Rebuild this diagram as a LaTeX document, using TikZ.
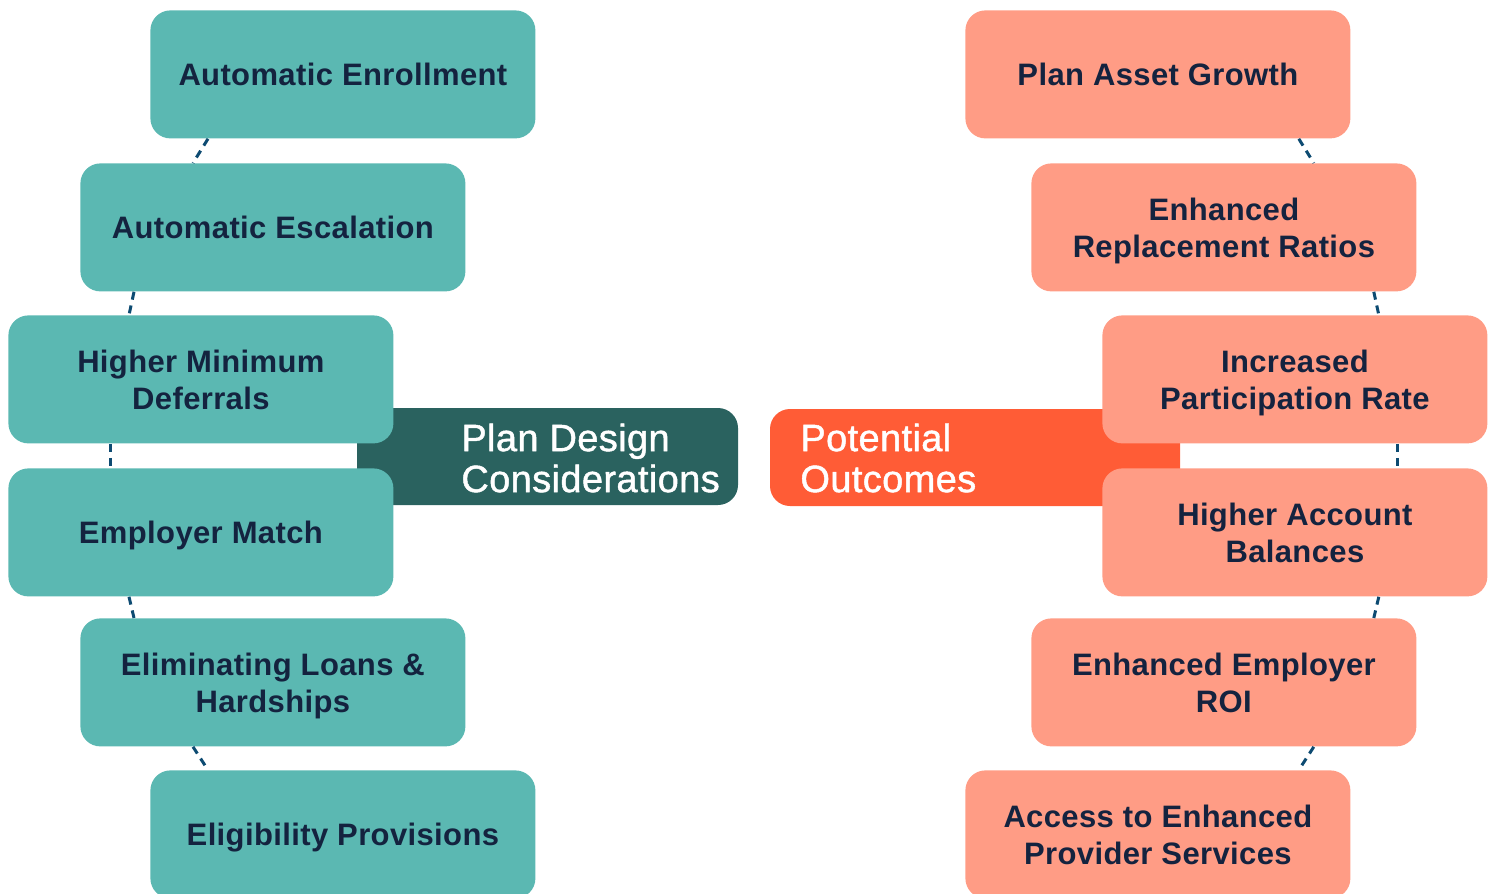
\documentclass[tikz,border=0pt]{standalone}
\usepackage{fontspec}
\setmainfont{Liberation Sans}
\newfontfamily\boxfont[LetterSpace=1.2]{Liberation Sans}
\newfontfamily\hubfont[LetterSpace=1.0, BoldFont={Liberation Sans}, BoldFeatures={FakeBold=1.2}]{Liberation Sans}
\usetikzlibrary{calc}
\definecolor{tealbox}{HTML}{5BB8B2}
\definecolor{tealdark}{HTML}{2A625F}
\definecolor{orangehub}{HTML}{FF5C36}
\definecolor{salmonbox}{HTML}{FF9C85}
\definecolor{navytext}{HTML}{14233F}
\definecolor{dashblue}{HTML}{0D4B72}
\tikzset{
  itembox/.style={anchor=north west, rounded corners=10pt, minimum width=192.5pt,
    minimum height=64pt, inner sep=0pt, text depth=0pt, align=center, text=navytext,
    font=\boxfont\fontsize{15.5pt}{18.5pt}\selectfont\bfseries},
  leftbox/.style={itembox, fill=tealbox},
  rightbox/.style={itembox, fill=salmonbox},
  hubtext/.style={anchor=west, align=left, text=white, inner sep=0pt,
    font=\hubfont\fontsize{19pt}{20.5pt}\selectfont\bfseries},
  link/.style={draw=dashblue, line width=1.5pt, dash pattern=on 4pt off 3pt}
}
\begin{document}
\begin{tikzpicture}[x=0.5pt, y=-0.5pt]
\useasboundingbox (0,0) rectangle (1496,894);

% central hubs (drawn first, partly covered by the side boxes)
\fill[tealdark, rounded corners=10pt] (357,408) rectangle (738,505);
\fill[orangehub, rounded corners=10pt] (770,409) rectangle (1180,506);
\node[hubtext] (hubL) at (461,458) {Plan Design\\Considerations};
\node[hubtext] (hubR) at (800,458) {Potential\\Outcomes};

% plan design considerations
\node[leftbox] (l1) at (150,10)  {Automatic Enrollment};
\node[leftbox] (l2) at (80,163)  {Automatic Escalation};
\node[leftbox] (l3) at (8,315)   {Higher Minimum\\Deferrals};
\node[leftbox] (l4) at (8,468)   {Employer Match};
\node[leftbox] (l5) at (80,618)  {Eliminating Loans \&\\Hardships};
\node[leftbox] (l6) at (150,770) {Eligibility Provisions};

% potential outcomes
\node[rightbox] (r1) at (965,10)   {Plan Asset Growth};
\node[rightbox] (r2) at (1031,163) {Enhanced\\Replacement Ratios};
\node[rightbox] (r3) at (1102,315) {Increased\\Participation Rate};
\node[rightbox] (r4) at (1102,468) {Higher Account\\Balances};
\node[rightbox] (r5) at (1031,618) {Enhanced Employer\\ROI};
\node[rightbox] (r6) at (965,770)  {Access to Enhanced\\Provider Services};

% dashed links between neighbouring boxes
\draw[link] ([xshift=29pt]l1.south west) -- ([xshift=56.5pt]l2.north west);
\draw[link] ([xshift=27pt]l2.south west) -- ([xshift=60.5pt]l3.north west);
\draw[link] ([xshift=51pt]l3.south west) -- ([xshift=51pt]l4.north west);
\draw[link] ([xshift=60.5pt]l4.south west) -- ([xshift=27pt]l5.north west);
\draw[link] ([xshift=56.5pt]l5.south west) -- ([xshift=29pt]l6.north west);

\draw[link] ([xshift=-26pt]r1.south east) -- ([xshift=-51.5pt]r2.north east);
\draw[link] ([xshift=-21.5pt]r2.south east) -- ([xshift=-54.5pt]r3.north east);
\draw[link] ([xshift=-45pt]r3.south east) -- ([xshift=-45pt]r4.north east);
\draw[link] ([xshift=-54.5pt]r4.south east) -- ([xshift=-21.5pt]r5.north east);
\draw[link] ([xshift=-51.5pt]r5.south east) -- ([xshift=-26pt]r6.north east);
\end{tikzpicture}
\end{document}
